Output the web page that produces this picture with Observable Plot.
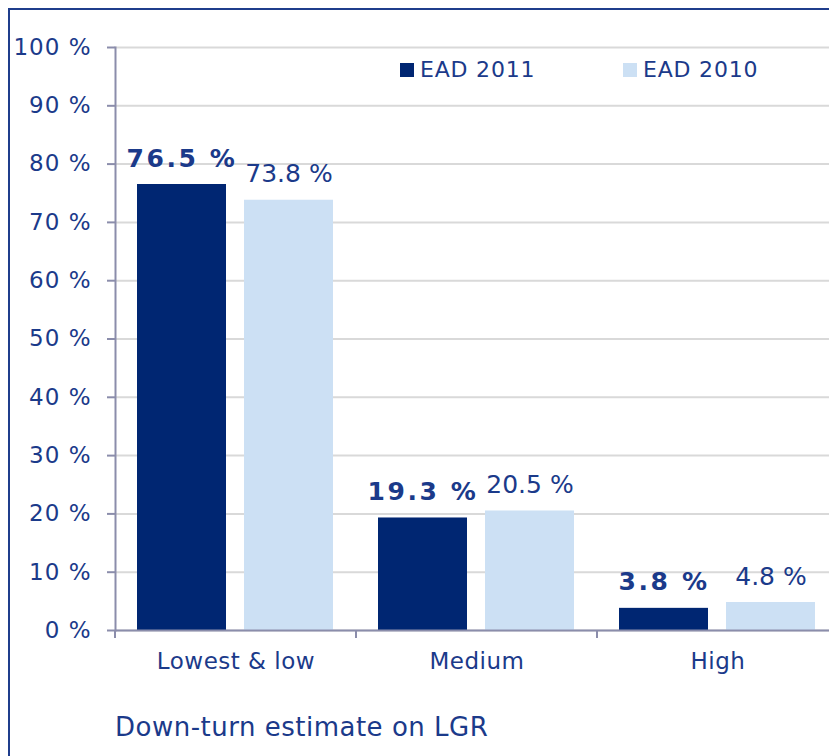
<!DOCTYPE html>
<html>
<head>
<meta charset="utf-8">
<script src="https://cdn.jsdelivr.net/npm/d3@7"></script>
<script src="https://cdn.jsdelivr.net/npm/@observablehq/plot@0.6"></script>
<style>
  body { margin: 0; background: #fff; }
  #wrap { position: relative; width: 829px; height: 756px; overflow: hidden;
          font-family: "DejaVu Sans", Verdana, sans-serif; color: #1b3a8a; background: #fff; }
  #border { position: absolute; left: 8px; top: 8px; width: 900px; height: 900px;
            border-left: 2px solid #1f3d8c; border-top: 2px solid #1f3d8c; }
  #chart { position: absolute; left: 0; top: 0; }
  .leg { position: absolute; top: 59px; font-size: 22px; line-height: 22px; letter-spacing: 0.8px; white-space: nowrap; }
  .sw { position: absolute; top: 63px; width: 14px; height: 14px; }
  #title { position: absolute; left: 115px; top: 714px; font-size: 26px; line-height: 26px; letter-spacing: 0.5px; white-space: nowrap; }
  g[aria-label="y-axis tick label"] text { letter-spacing: 1px; }
  g[aria-label="fx-axis tick label"] text { letter-spacing: 0.5px; }
</style>
</head>
<body>
<div id="wrap">
  <div id="border"></div>
  <div id="chart"></div>
  <div id="legend"></div>
  <div id="title"></div>
</div>
<script>
const categories = ["Lowest & low", "Medium", "High"];
const seriesNames = ["EAD 2011", "EAD 2010"];
const ead2011 = [76.5, 19.3, 3.8];
const ead2010 = [73.8, 20.5, 4.8];
const yTicks = [0, 10, 20, 30, 40, 50, 60, 70, 80, 90, 100];
const titleText = "Down-turn estimate on LGR";

const colors = ["#002672", "#cce0f4"];
const textColor = "#1b3a8a";
const axisColor = "#8b8dab";
const gridColor = "#d9d9d9";

const data = categories.flatMap((c, i) => [
  {category: c, series: seriesNames[0], value: ead2011[i]},
  {category: c, series: seriesNames[1], value: ead2010[i]}
]);
const fmt = d => `${d.value.toFixed(1)} %`;

const xTicks = (index, scales, values, dims) => {
  const g = d3.create("svg:g").attr("stroke", axisColor).attr("stroke-width", 2);
  const y0 = dims.height - dims.marginBottom;
  for (const c of categories) {
    const x = scales.fx(c);
    g.append("line").attr("x1", x).attr("x2", x).attr("y1", y0).attr("y2", y0 + 8);
  }
  return g.node();
};

const chart = Plot.plot({
  width: 829,
  height: 700,
  marginLeft: 115,
  marginRight: -9,
  marginTop: 47,
  marginBottom: 70,
  style: {fontFamily: "'DejaVu Sans', Verdana, sans-serif", fontSize: "23px", color: textColor, background: "transparent", overflow: "hidden"},
  fx: {domain: categories, padding: 0, label: null},
  x: {domain: seriesNames, paddingInner: 0.168, paddingOuter: 0.206, axis: null},
  y: {domain: [0, 100], label: null},
  color: {domain: seriesNames, range: colors},
  marks: [
    Plot.gridY(yTicks, {stroke: gridColor, strokeOpacity: 1, strokeWidth: 2}),
    Plot.barY(data, {fx: "category", x: "series", y: "value", fill: "series"}),
    Plot.text(data.filter(d => d.series === seriesNames[0]), {fx: "category", x: "series", y: "value", text: fmt, lineAnchor: "bottom", dy: -18, fontWeight: "bold", fill: textColor, fontSize: 25}),
    Plot.text(data.filter(d => d.series === seriesNames[1]), {fx: "category", x: "series", y: "value", text: fmt, lineAnchor: "bottom", dy: -18, fill: textColor, fontSize: 25}),
    Plot.ruleY([0], {stroke: axisColor, strokeWidth: 2}),
    Plot.frame({anchor: "left", facetAnchor: "left", stroke: axisColor, strokeWidth: 2}),
    Plot.axisY(yTicks, {tickFormat: d => `${d} %`, tickSize: 8, tickPadding: 16, stroke: axisColor, strokeWidth: 2, fill: textColor, label: null}),
    Plot.axisFx({anchor: "bottom", tickSize: 0, tickPadding: 22, fill: textColor, label: null}),
    xTicks
  ]
});
document.getElementById("chart").append(chart);
// bold value labels: wider tracking as in the original typesetting
d3.select(chart).selectAll("text").each(function() {
  const w = getComputedStyle(this).fontWeight;
  if (w === "bold" || +w >= 600) this.style.letterSpacing = "2.6px";
});

// legend
const legend = document.getElementById("legend");
const legX = [400, 623];
seriesNames.forEach((s, i) => {
  const sw = document.createElement("div");
  sw.className = "sw"; sw.style.left = legX[i] + "px"; sw.style.background = colors[i];
  const t = document.createElement("div");
  t.className = "leg"; t.style.left = (legX[i] + 20) + "px"; t.textContent = s;
  legend.append(sw, t);
});
document.getElementById("title").textContent = titleText;
</script>
</body>
</html>
